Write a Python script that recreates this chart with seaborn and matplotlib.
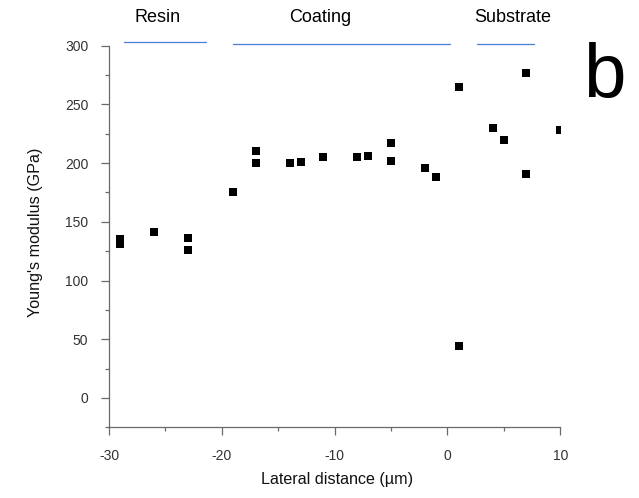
import matplotlib
matplotlib.use("Agg")
import matplotlib.pyplot as plt
from matplotlib.ticker import MultipleLocator
import seaborn as sns
import pandas as pd

# Data
lateral_um = [-29, -29, -26, -23, -23, -19, -17, -17, -14, -13, -11, -8, -7,
              -5, -5, -2, -1, 1, 1, 4, 5, 7, 7, 10]
modulus_gpa = [135, 131, 141, 136, 126, 175, 210, 200, 200, 201, 205, 205, 206,
               217, 202, 196, 188, 265, 44, 230, 220, 277, 191, 228]

regions = ["Resin", "Coating", "Substrate"]
region_start = [-28.7, -19.0, 2.6]
region_end = [-21.4, 0.2, 7.7]

df = pd.DataFrame({"x": lateral_um, "y": modulus_gpa})

sns.set_style("ticks")
plt.rcParams["font.family"] = ["Liberation Sans", "DejaVu Sans"]
plt.rcParams["axes.unicode_minus"] = False

fig = plt.figure(figsize=(6.39, 4.98), dpi=100)
ax = fig.add_axes([0.1706, 0.1420, 0.7062, 0.7662])

sns.scatterplot(data=df, x="x", y="y", marker="s", s=34, color="black",
                linewidth=0, ax=ax, clip_on=True)

ax.set_xlim(-30, 10)
ax.set_ylim(-25, 300)
ax.xaxis.set_major_locator(MultipleLocator(10))
ax.xaxis.set_minor_locator(MultipleLocator(5))
ax.yaxis.set_major_locator(MultipleLocator(50))
ax.yaxis.set_minor_locator(MultipleLocator(25))

spine_col = "#6a6a6a"
for side in ["top", "right"]:
    ax.spines[side].set_visible(False)
for side in ["left", "bottom"]:
    ax.spines[side].set_color(spine_col)
    ax.spines[side].set_linewidth(0.9)

ax.tick_params(axis="both", which="major", direction="out", length=6,
               width=0.9, color=spine_col, labelsize=10, labelcolor="#333333")
ax.tick_params(axis="both", which="minor", direction="out", length=3,
               width=0.9, color=spine_col)
ax.tick_params(axis="x", which="major", pad=9.5)
ax.tick_params(axis="y", which="major", pad=9)

ax.set_xlabel("Lateral distance (µm)", fontsize=11.6, color="#111111")
ax.set_ylabel("Young's modulus (GPa)", fontsize=11.6, color="#111111")
ax.xaxis.set_label_coords(0.505, -0.118)
ax.yaxis.set_label_coords(-0.147, 0.51)

# Region annotations above the plot
line_y = [303.5, 301.8, 301.2]
for name, a, b, ly in zip(regions, region_start, region_end, line_y):
    ax.plot([a, b], [ly, ly], color="#4a7fd6", lw=0.9, clip_on=False)
label_x = [-25.66, -11.3, 5.8]
for name, lx in zip(regions, label_x):
    ax.text(lx, 324, name, ha="center", va="center", fontsize=13,
            color="black", clip_on=False)

fig.text(0.912, 0.806, "b", fontsize=55, ha="left", va="baseline",
         color="black")

fig.savefig("out.png", dpi=100)
